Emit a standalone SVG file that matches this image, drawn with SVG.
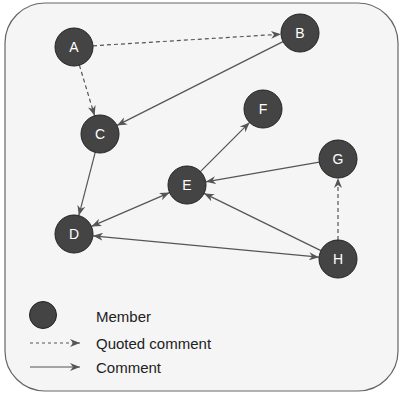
<svg xmlns="http://www.w3.org/2000/svg" width="402" height="399" viewBox="0 0 402 399">
<style>
.bg{fill:#f5f5f5;stroke:#666;stroke-width:1.2}
.node circle{fill:#444;stroke:#222;stroke-width:1}
.node text{fill:#fff;font-family:"Liberation Sans",Arial,sans-serif;font-size:14px;text-anchor:middle;dominant-baseline:central}
.e{stroke:#555;stroke-width:1.2;fill:none}
.d{stroke-dasharray:4,3}
.dl{stroke-dasharray:3,3}
.lg{fill:#222;font-family:"Liberation Sans",Arial,sans-serif;font-size:15px}
</style>
<defs>
<marker id="ah" viewBox="0 0 10 8" refX="10" refY="4" markerWidth="10" markerHeight="8" markerUnits="userSpaceOnUse" orient="auto-start-reverse">
<path d="M0,0 L10,4 L0,8 L3,4 z" fill="#555"/>
</marker>
</defs>
<rect class="bg" x="5" y="3" width="393" height="388" rx="40" ry="40"/>
<g id="connectors">
<line class="e d" x1="93" y1="45.8" x2="281" y2="34.2" marker-end="url(#ah)"/>
<line class="e d" x1="79.4" y1="65.2" x2="94.6" y2="115.8" marker-end="url(#ah)"/>
<line class="e" x1="283" y1="41.6" x2="117" y2="125.4" marker-end="url(#ah)"/>
<line class="e" x1="95.2" y1="152.4" x2="78.8" y2="215.6" marker-end="url(#ah)"/>
<line class="e" x1="200.4" y1="171.6" x2="249.6" y2="122.4" marker-end="url(#ah)"/>
<line class="e" x1="319.3" y1="162.2" x2="205.7" y2="181.8" marker-end="url(#ah)"/>
<line class="e" x1="91.4" y1="226.4" x2="169.6" y2="192.6" marker-start="url(#ah)" marker-end="url(#ah)"/>
<line class="e" x1="92.9" y1="235.8" x2="319.1" y2="257.2" marker-start="url(#ah)" marker-end="url(#ah)"/>
<line class="e" x1="320.9" y1="250.6" x2="204.1" y2="193.4" marker-end="url(#ah)"/>
<line class="e d" x1="338" y1="240" x2="338" y2="178" marker-end="url(#ah)"/>
</g>
<g id="A" class="node"><circle cx="74" cy="47" r="19"/><text x="74" y="47">A</text></g>
<g id="B" class="node"><circle cx="300" cy="33" r="19"/><text x="300" y="33">B</text></g>
<g id="C" class="node"><circle cx="100" cy="134" r="19"/><text x="100" y="134">C</text></g>
<g id="D" class="node"><circle cx="74" cy="234" r="19"/><text x="74" y="234">D</text></g>
<g id="E" class="node"><circle cx="187" cy="185" r="19"/><text x="187" y="185">E</text></g>
<g id="F" class="node"><circle cx="263" cy="109" r="19"/><text x="263" y="109">F</text></g>
<g id="G" class="node"><circle cx="338" cy="159" r="19"/><text x="338" y="159">G</text></g>
<g id="H" class="node"><circle cx="338" cy="259" r="19"/><text x="338" y="259">H</text></g>
<g id="legend">
<circle cx="43" cy="315" r="13.5" fill="#444" stroke="#222" stroke-width="1"/>
<text class="lg" x="96" y="321.5">Member</text>
<line class="e dl" x1="30" y1="343" x2="80" y2="343" marker-end="url(#ah)"/>
<text class="lg" x="96" y="348.5">Quoted comment</text>
<line class="e" x1="30" y1="367" x2="80" y2="367" marker-end="url(#ah)"/>
<text class="lg" x="96" y="372.5">Comment</text>
</g>
</svg>
